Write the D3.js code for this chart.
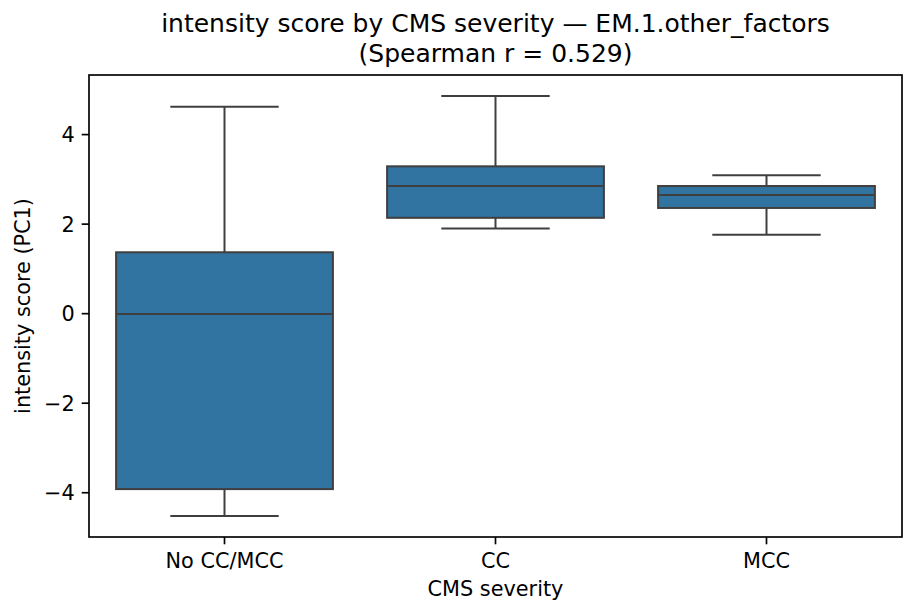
<!DOCTYPE html>
<html><head><meta charset="utf-8">
<script src="https://cdn.jsdelivr.net/npm/d3@7"></script>
<style>body{margin:0;background:#fff;} svg{display:block;font-family:"DejaVu Sans",sans-serif;}</style>
</head><body>
<svg id="chart" width="917" height="615"></svg>
<script>
const categories = ["No CC/MCC", "CC", "MCC"];
const whiskerLow = [-4.53, 1.89, 1.75];
const q1Values   = [-3.93, 2.13, 2.35];
const medians    = [-0.02, 2.84, 2.64];
const q3Values   = [1.36, 3.28, 2.84];
const whiskerHigh= [4.61, 4.85, 3.08];
const yTicks = [-4, -2, 0, 2, 4];
const titleLines = ["intensity score by CMS severity — EM.1.other_factors", "(Spearman r = 0.529)"];
const xLabel = "CMS severity";
const yLabel = "intensity score (PC1)";

const data = categories.map((c,i)=>({cat:c, lo:whiskerLow[i], q1:q1Values[i], med:medians[i], q3:q3Values[i], hi:whiskerHigh[i]}));

const svg = d3.select("#chart");
const L=89, R=902, T=75, B=537;
const x = d3.scaleBand().domain(categories).range([L,R]).paddingInner(0).paddingOuter(0);
const y = d3.scaleLinear().domain([-5.0, 5.32]).range([B,T]);

const boxW = x.bandwidth()*0.8;
const capW = boxW*0.5;
const lineCol = "#3f3f3f", fill = "#3274a1", lw = 2;

const g = svg.append("g");
data.forEach(d=>{
  const cx = x(d.cat) + x.bandwidth()/2;
  const gg = g.append("g");
  gg.append("line").attr("x1",cx).attr("x2",cx).attr("y1",y(d.q3)).attr("y2",y(d.hi)).attr("stroke",lineCol).attr("stroke-width",lw);
  gg.append("line").attr("x1",cx).attr("x2",cx).attr("y1",y(d.q1)).attr("y2",y(d.lo)).attr("stroke",lineCol).attr("stroke-width",lw);
  gg.append("line").attr("x1",cx-capW/2).attr("x2",cx+capW/2).attr("y1",y(d.hi)).attr("y2",y(d.hi)).attr("stroke",lineCol).attr("stroke-width",lw);
  gg.append("line").attr("x1",cx-capW/2).attr("x2",cx+capW/2).attr("y1",y(d.lo)).attr("y2",y(d.lo)).attr("stroke",lineCol).attr("stroke-width",lw);
  gg.append("rect").attr("x",cx-boxW/2).attr("width",boxW).attr("y",y(d.q3)).attr("height",y(d.q1)-y(d.q3))
    .attr("fill",fill).attr("stroke",lineCol).attr("stroke-width",lw);
  gg.append("line").attr("x1",cx-boxW/2).attr("x2",cx+boxW/2).attr("y1",y(d.med)).attr("y2",y(d.med)).attr("stroke",lineCol).attr("stroke-width",lw);
});

// axes
const fmt = v => v<0 ? "\u2212"+Math.abs(v) : String(v);
const yAxis = svg.append("g").attr("transform",`translate(${L},0)`)
  .call(d3.axisLeft(y).tickValues(yTicks).tickFormat(fmt).tickSize(7.3).tickPadding(7));
const xAxis = svg.append("g").attr("transform",`translate(0,${B})`)
  .call(d3.axisBottom(x).tickSize(7.3).tickPadding(7));
[yAxis,xAxis].forEach(a=>{
  a.select(".domain").remove();
  a.selectAll(".tick line").attr("stroke","#000").attr("stroke-width",1.67);
  a.selectAll(".tick text").attr("fill","#000").style("font-size","20.8px").style("font-family","DejaVu Sans");
});
xAxis.selectAll(".tick text").attr("dy",null).attr("y",31.3);
yAxis.selectAll(".tick text").attr("dy","0.36em");

// spines
svg.append("rect").attr("x",L).attr("y",T).attr("width",R-L).attr("height",B-T)
  .attr("fill","none").attr("stroke","#000").attr("stroke-width",1.67);

// labels
const cxm = (L+R)/2;
svg.append("text").attr("x",cxm).attr("y",595.7).attr("text-anchor","middle").style("font-size","20.8px").text(xLabel);
svg.append("text").attr("transform",`translate(30,${(T+B)/2}) rotate(-90)`).attr("text-anchor","middle").style("font-size","20.8px").text(yLabel);
const tt = svg.append("text").attr("text-anchor","middle").style("font-size","25px");
titleLines.forEach((t,i)=>tt.append("tspan").attr("x",cxm).attr("y",i===0?32.3:61.7).text(t));
</script>
</body></html>
